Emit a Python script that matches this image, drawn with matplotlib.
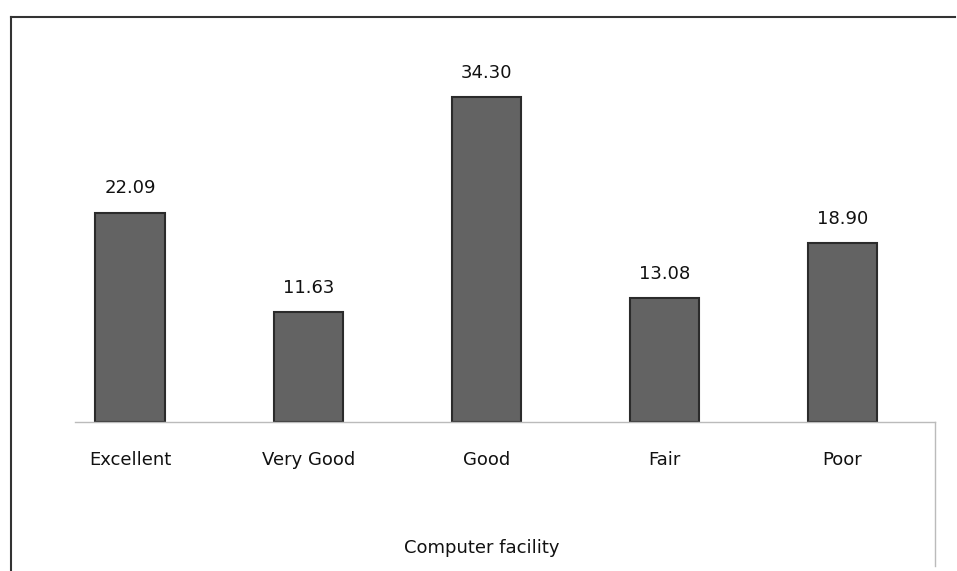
import matplotlib
matplotlib.use('Agg')
import matplotlib.pyplot as plt
from matplotlib.lines import Line2D

plt.rcParams['font.family'] = ['DejaVu Sans']

categories = ['Excellent', 'Very Good', 'Good', 'Fair', 'Poor']
values = [22.09, 11.63, 34.30, 13.08, 18.90]
value_labels = ['22.09', '11.63', '34.30', '13.08', '18.90']
xlabel = 'Computer facility'

W, H = 957, 571
fig = plt.figure(figsize=(W / 100, H / 100), dpi=100)
ax = fig.add_axes([75 / W, 1 - 422 / H, 860 / W, 360 / H])

x = range(len(categories))
bars = ax.bar(x, values, width=0.39, color='#636363', edgecolor='#2b2b2b', linewidth=1.5)

for bar, lab in zip(bars, value_labels):
    ax.text(bar.get_x() + bar.get_width() / 2, bar.get_height() + 1.6, lab,
            ha='center', va='bottom', fontsize=13, color='#111')

ax.set_xlim(-0.31, 4.52)
ax.set_ylim(0, 360 / 9.48)
ax.set_yticks([])
ax.set_xticks(list(x))
ax.set_xticklabels(categories, fontsize=13, color='#111')
ax.tick_params(axis='x', length=0, pad=21)
for s in ['top', 'left', 'right']:
    ax.spines[s].set_visible(False)
ax.spines['bottom'].set_color('#bbbbbb')
ax.spines['bottom'].set_linewidth(1)

fig.text(482 / W, 1 - 548 / H, xlabel, ha='center', va='center', fontsize=13, color='#111')

# outer frame (top and left) and right edge of category area
fig.add_artist(Line2D([11 / W, 955 / W], [1 - 17 / H, 1 - 17 / H], color='#333', lw=1.5))
fig.add_artist(Line2D([11 / W, 11 / W], [1 - 17 / H, 0], color='#333', lw=1.5))
fig.add_artist(Line2D([935 / W, 935 / W], [1 - 422 / H, 1 - 566 / H], color='#bbbbbb', lw=1))

fig.savefig('out.png', dpi=100)
plt.close()
